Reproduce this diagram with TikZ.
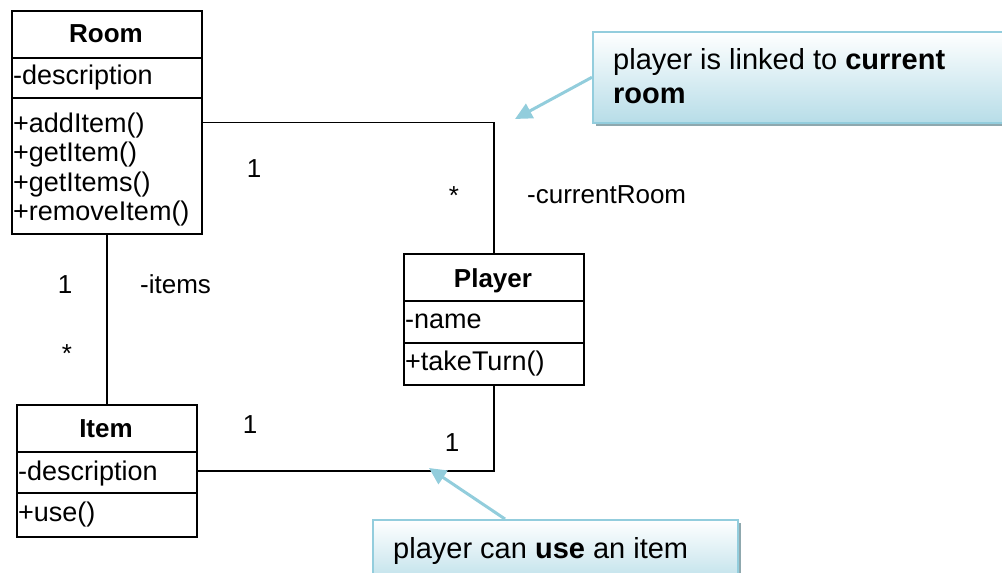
\documentclass[tikz,border=0pt]{standalone}
\usepackage{fontspec}
\setmainfont{Liberation Sans}
\usetikzlibrary{arrows.meta,shadows}
\definecolor{noteline}{HTML}{93CDDD}
\definecolor{notefill}{HTML}{B7DDE8}
\definecolor{noteshadow}{HTML}{8FA8AE}
\definecolor{notepointer}{HTML}{92CDDC}

\begin{document}
\begin{tikzpicture}[x=1pt,y=-1pt,
  classbox/.style={draw, line width=1.8pt, inner sep=0pt},
  sep/.style={line width=1.8pt},
  link/.style={line width=1.3pt},
  txt/.style={inner sep=0pt, font=\fontsize{26}{30}\selectfont},
  member/.style={inner sep=0pt, anchor=base west, font=\fontsize{27}{30}\selectfont},
  classname/.style={txt, anchor=base, font=\fontsize{26}{30}\selectfont\bfseries},
  mult/.style={txt, anchor=base},
  role/.style={txt, anchor=base west},
  note/.style={draw=noteline, line width=1.5pt, top color=white, bottom color=notefill,
    inner sep=0pt, anchor=north west,
    drop shadow={shadow xshift=3pt, shadow yshift=-3pt, fill=noteshadow, opacity=1}},
  notetext/.style={inner sep=0pt, anchor=base west, font=\fontsize{29}{34}\selectfont},
  pointer/.style={draw=notepointer, line width=3pt,
    -{Triangle[length=17pt,width=16pt]}}
]
\useasboundingbox (0,0) rectangle (1002,573);
\clip (0,0) rectangle (1002,573);

% ---- class Room ----
\node[classbox, minimum width=190pt, minimum height=223pt, anchor=north west] (room) at (11,10) {};
\draw[sep] (11,58) -- (201,58);
\draw[sep] (11,98) -- (201,98);
\node[classname] (roomname) at (106,42) {Room};
\node[member] (roomdesc) at (13,84) {-description};
\node[member] (roomadd) at (13,132) {+addItem()};
\node[member] (roomget) at (13,161) {+getItem()};
\node[member] (roomgets) at (13,191) {+getItems()};
\node[member] (roomrem) at (13,220) {+removeItem()};

% ---- class Player ----
\node[classbox, minimum width=180pt, minimum height=131pt, anchor=north west] (player) at (403,253) {};
\draw[sep] (403,301) -- (583,301);
\draw[sep] (403,343) -- (583,343);
\node[classname] (playername) at (493,287) {Player};
\node[member] (playerattr) at (405,328) {-name};
\node[member] (playerop) at (405,370) {+takeTurn()};

% ---- class Item ----
\node[classbox, minimum width=180pt, minimum height=132pt, anchor=north west] (item) at (16,404) {};
\draw[sep] (16,452) -- (196,452);
\draw[sep] (16,493) -- (196,493);
\node[classname] (itemname) at (106,437) {Item};
\node[member] (itemdesc) at (18,480) {-description};
\node[member] (itemop) at (18,521) {+use()};

% ---- associations ----
\draw[link] (room.east) -| (player.north);
\draw[link] (room.south) -- (item.north);
\draw[link] (item.east) -| (player.south);

% multiplicities and role names
\node[mult] (m1) at (254,177) {1};
\node[mult] (m2) at (454,204) {*};
\node[role] (r1) at (527,203) {-currentRoom};
\node[mult] (m3) at (65,293) {1};
\node[role] (r2) at (140,293) {-items};
\node[mult] (m4) at (67,362) {*};
\node[mult] (m5) at (250,433) {1};
\node[mult] (m6) at (452,451) {1};

% ---- notes ----
\node[note, minimum width=420pt, minimum height=91pt] (note1) at (592,31) {};
\node[notetext] (note1a) at (613,69) {player is linked to \textbf{current}};
\node[notetext] (note1b) at (613,103) {\textbf{room}};
\coordinate (tip1) at (515,119);
\draw[pointer] (note1.west) -- (tip1);

\node[note, minimum width=365pt, minimum height=70pt] (note2) at (372,519) {};
\node[notetext] (note2a) at (393,558) {player can \textbf{use} an item};
\coordinate (note2src) at (505,519);
\coordinate (tip2) at (429,468);
\draw[pointer] (note2src) -- (tip2);
\end{tikzpicture}
\end{document}
